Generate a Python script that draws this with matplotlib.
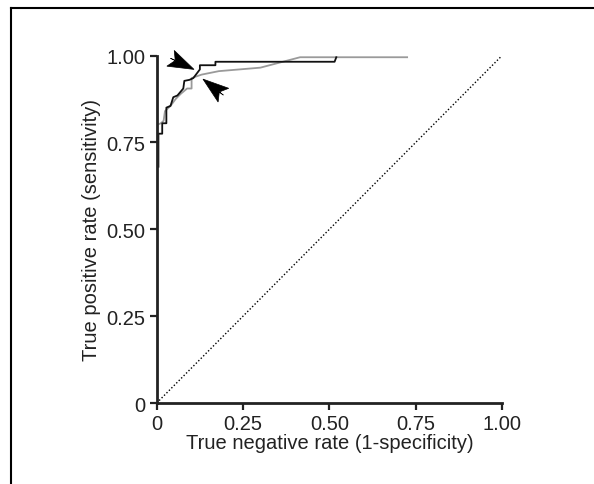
import matplotlib.pyplot as plt
from matplotlib.lines import Line2D

plt.rcParams['font.family'] = ['Liberation Sans', 'DejaVu Sans']

# ROC curve (false positive rate, sensitivity)
black_fpr = [0.005, 0.005, 0.016, 0.016, 0.028, 0.028, 0.040, 0.048, 0.060, 0.077,
             0.080, 0.095, 0.106, 0.125, 0.125, 0.170, 0.170, 0.515, 0.520]
black_tpr = [0.680, 0.775, 0.775, 0.805, 0.805, 0.850, 0.855, 0.880, 0.885, 0.905,
             0.927, 0.930, 0.935, 0.960, 0.972, 0.972, 0.982, 0.982, 0.995]

gray_fpr = [0.000, 0.000, 0.012, 0.020, 0.024, 0.040, 0.055, 0.070, 0.088, 0.101,
            0.101, 0.130, 0.180, 0.300, 0.415, 0.725]
gray_tpr = [0.750, 0.800, 0.805, 0.812, 0.840, 0.855, 0.875, 0.890, 0.905, 0.905,
            0.935, 0.945, 0.955, 0.965, 0.995, 0.995]

# arrowheads: (tail x, tail y, tip x, tip y)
arrows = [(0.040, 0.992, 0.108, 0.960),
          (0.193, 0.886, 0.134, 0.932)]

ticks = [0, 0.25, 0.5, 0.75, 1.0]
tick_labels = ['0', '0.25', '0.50', '0.75', '1.00']

fig = plt.figure(figsize=(5.94, 4.85), dpi=100)
ax = fig.add_axes([0.2638, 0.167, 0.5815, 0.7165])

ax.plot([0, 1], [0, 1], color='black', linestyle=(0, (1, 1.5)), linewidth=1.0)
ax.plot(gray_fpr, gray_tpr, color='#9a9a9a', linewidth=1.3)
ax.plot(black_fpr, black_tpr, color='#111111', linewidth=1.3)

for x0, y0, x1, y1 in arrows:
    ax.arrow(x0, y0, x1 - x0, y1 - y0, width=0.0, head_width=0.05,
             head_length=0.075, overhang=0.2, length_includes_head=True,
             color='black', linewidth=0.5, zorder=5, clip_on=False)

ax.set_xlim(0, 1.0)
ax.set_ylim(0, 1.0)
ax.set_xticks(ticks)
ax.set_xticklabels(tick_labels)
ax.set_yticks(ticks)
ax.set_yticklabels(tick_labels)
ax.tick_params(direction='out', length=5, width=1.6, labelsize=14.5,
               pad=3, color='#222222', labelcolor='#222222')
for s in ['top', 'right']:
    ax.spines[s].set_visible(False)
for s in ['left', 'bottom']:
    ax.spines[s].set_linewidth(2)
    ax.spines[s].set_color('#222222')

ax.set_xlabel('True negative rate (1-specificity)', fontsize=14.5,
              color='#222222', labelpad=0)
ax.set_ylabel('True positive rate (sensitivity)', fontsize=14.5,
              color='#222222', labelpad=4)

# frame lines on the top and left of the figure
fig.add_artist(Line2D([11 / 594, 1.0], [1 - 9 / 485, 1 - 9 / 485],
                      transform=fig.transFigure, color='black', linewidth=1.5))
fig.add_artist(Line2D([11 / 594, 11 / 594], [0, 1 - 9 / 485],
                      transform=fig.transFigure, color='black', linewidth=1.5))

fig.savefig('out.png', dpi=100)
